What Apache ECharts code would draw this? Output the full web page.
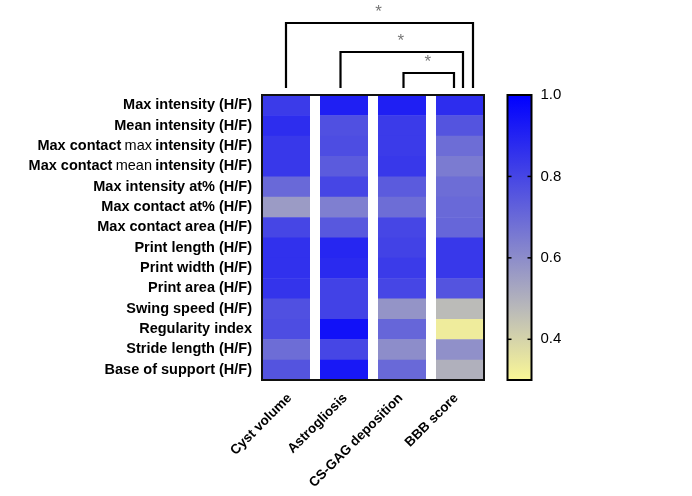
<!DOCTYPE html>
<html>
<head>
<meta charset="utf-8">
<script src="https://cdn.jsdelivr.net/npm/echarts@6/dist/echarts.min.js"></script>
<style>
  html, body { margin: 0; padding: 0; background: #fff; }
  #main { width: 692px; height: 496px; }
</style>
</head>
<body>
<div id="main"></div>
<script>
// rows (top to bottom) and columns of the heatmap
var rowLabels = [
  'Max intensity (H/F)', 'Mean intensity (H/F)', 'Max contact max intensity (H/F)',
  'Max contact mean intensity (H/F)', 'Max intensity at% (H/F)', 'Max contact at% (H/F)',
  'Max contact area (H/F)', 'Print length (H/F)', 'Print width (H/F)', 'Print area (H/F)',
  'Swing speed (H/F)', 'Regularity index', 'Stride length (H/F)', 'Base of support (H/F)'
]
var colLabels = ['Cyst volume', 'Astrogliosis', 'CS-GAG deposition', 'BBB score']

// correlation values, one array per column, same order as rowLabels
var cystVolume   = [0.83, 0.87, 0.84, 0.84, 0.70, 0.56, 0.80, 0.86, 0.86, 0.85, 0.77, 0.78, 0.69, 0.76]
var astrogliosis = [0.91, 0.77, 0.78, 0.74, 0.80, 0.64, 0.75, 0.89, 0.88, 0.81, 0.81, 0.95, 0.80, 0.93]
var csGag        = [0.91, 0.83, 0.83, 0.84, 0.74, 0.69, 0.80, 0.81, 0.83, 0.80, 0.58, 0.71, 0.60, 0.70]
var bbbScore     = [0.87, 0.76, 0.69, 0.65, 0.69, 0.70, 0.71, 0.84, 0.84, 0.76, 0.47, 0.33, 0.59, 0.50]

var scaleMin = 0.3
var scaleMax = 1.0
var scaleTicks = [0.4, 0.6, 0.8, 1.0]
var scaleColors = ['#faf796', '#b9b9b9', '#7b7bd1', '#3d3de8', '#0000ff']

// significance brackets: columns joined and asterisk
var brackets = [
  { from: 0, to: 3, text: '*' },
  { from: 1, to: 3, text: '*' },
  { from: 2, to: 3, text: '*' }
]

var columns = [cystVolume, astrogliosis, csGag, bbbScore]
var cells = []
columns.forEach(function (vals, c) {
  vals.forEach(function (v, r) { cells.push([c, r, v]) })
})

// layout
var plot = { left: 262, top: 95, width: 222, height: 285 }
var bar = { left: 507.5, top: 95, width: 24, height: 285 }
var GAP = 10
var cellW = (plot.width - GAP * (colLabels.length - 1)) / colLabels.length
function cellCenter (c) { return plot.left + c * (cellW + GAP) + cellW / 2 }

var font = '"Liberation Sans", Arial, sans-serif'

function renderCell (params, api) {
  var cs = params.coordSys
  var col = api.value(0)
  var pt = api.coord([col, api.value(1)])
  var h = api.size([1, 1])[1]
  var w = (cs.width - GAP * (colLabels.length - 1)) / colLabels.length
  return {
    type: 'rect',
    shape: { x: cs.x + col * (w + GAP), y: pt[1] - h / 2, width: w, height: h + 0.5 },
    style: { fill: api.visual('color') }
  }
}

// short tick marks on both inner edges of the colour bar
function renderBarTick (params, api) {
  var cs = params.coordSys
  var y = api.coord([0.5, api.value(1)])[1]
  var ls = { stroke: '#000', lineWidth: 1.5 }
  return {
    type: 'group',
    children: [
      { type: 'line', shape: { x1: cs.x, y1: y, x2: cs.x + 4, y2: y }, style: ls },
      { type: 'line', shape: { x1: cs.x + cs.width - 4, y1: y, x2: cs.x + cs.width, y2: y }, style: ls }
    ]
  }
}

function rowLabel (s) {
  var m = s.match(/^Max contact (max|mean) (.*)$/)
  if (m) return '{b|Max contact} {n|' + m[1] + '} {b|' + m[2] + '}'
  return '{b|' + s + '}'
}

// bracket graphics
var graphics = []
var legBottom = 88
var tops = [23, 52, 73]
var rightOffs = [13, 3, -6]
var leftOffs = [0, -3.5, 1.5]
brackets.forEach(function (b, i) {
  var x1 = cellCenter(b.from) + leftOffs[i]
  var x2 = cellCenter(b.to) + rightOffs[i]
  graphics.push({
    type: 'polyline', z: 100,
    shape: { points: [[x1, legBottom], [x1, tops[i]], [x2, tops[i]], [x2, legBottom]] },
    style: { stroke: '#000', lineWidth: 2.2, fill: null }
  })
  graphics.push({
    type: 'text', z: 100, x: (x1 + x2) / 2 - 1, y: tops[i] - 11,
    style: { text: b.text, fill: '#777', font: '17px ' + font, align: 'center', verticalAlign: 'middle' }
  })
})
// colour bar
var stops = scaleColors.map(function (col, i) {
  return { offset: 1 - i / (scaleColors.length - 1), color: col }
})
graphics.push({
  type: 'rect', z: 0,
  shape: { x: bar.left, y: bar.top, width: bar.width, height: bar.height },
  style: { fill: new echarts.graphic.LinearGradient(0, 0, 0, 1, stops) }
})
graphics.push({
  type: 'rect', z: 100,
  shape: { x: bar.left, y: bar.top, width: bar.width, height: bar.height },
  style: { fill: null, stroke: '#000', lineWidth: 2 }
})
graphics.push({
  type: 'rect', z: 100,
  shape: { x: plot.left, y: plot.top, width: plot.width, height: plot.height },
  style: { fill: null, stroke: '#111', lineWidth: 2 }
})

var option = {
  animation: false,
  backgroundColor: '#fff',
  textStyle: { fontFamily: font },
  grid: [
    { left: plot.left, top: plot.top, width: plot.width, height: plot.height },
    { left: bar.left, top: bar.top, width: bar.width, height: bar.height }
  ],
  xAxis: [
    {
      type: 'category', gridIndex: 0, data: colLabels,
      axisLine: { show: false }, axisTick: { show: false },
      axisLabel: { rotate: 45, margin: 16, color: '#000', fontWeight: 'bold', fontSize: 13.5, fontFamily: font }
    },
    { type: 'value', gridIndex: 1, min: 0, max: 1, show: false }
  ],
  yAxis: [
    {
      type: 'category', gridIndex: 0, data: rowLabels, inverse: true,
      axisLine: { show: false }, axisTick: { show: false }, splitLine: { show: false },
      axisLabel: {
        margin: 10, formatter: rowLabel,
        rich: {
          b: { color: '#000', fontWeight: 'bold', fontSize: 14.5, fontFamily: font },
          n: { color: '#000', fontWeight: 'normal', fontSize: 14.5, fontFamily: font }
        }
      }
    },
    {
      type: 'value', gridIndex: 1, min: scaleMin, max: scaleMax, position: 'right',
      axisLine: { show: false }, splitLine: { show: false }, axisTick: { show: false },
      axisLabel: {
        customValues: scaleTicks, margin: 9, color: '#000', fontSize: 15, fontFamily: font,
        formatter: function (v) { return v.toFixed(1) }
      }
    }
  ],
  visualMap: {
    show: false, type: 'continuous', min: scaleMin, max: scaleMax,
    seriesIndex: 0, dimension: 2,
    inRange: { color: scaleColors }
  },
  graphic: graphics,
  series: [
    {
      type: 'custom', xAxisIndex: 0, yAxisIndex: 0,
      renderItem: renderCell, encode: { x: 0, y: 1 },
      data: cells
    },
    {
      type: 'custom', xAxisIndex: 1, yAxisIndex: 1, z: 50,
      renderItem: renderBarTick, encode: { x: 0, y: 1 },
      data: scaleTicks.map(function (v) { return [0.5, v] })
    }
  ]
}

var chart = echarts.init(document.getElementById('main'), null, { renderer: 'canvas' })
chart.setOption(option)
window.addEventListener('resize', function () { chart.resize() })
</script>
</body>
</html>
